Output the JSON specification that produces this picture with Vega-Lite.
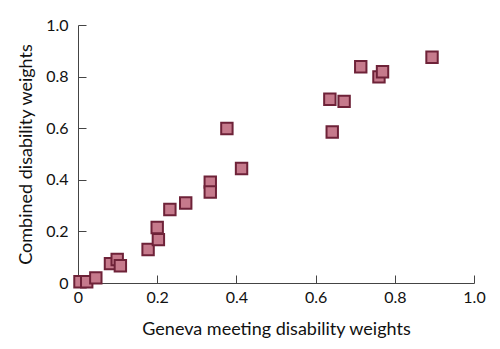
{
  "$schema": "https://vega.github.io/schema/vega-lite/v6.json",
  "autosize": {"type": "none"},
  "width": 396,
  "height": 258,
  "padding": {"left": 78, "top": 25, "right": 26, "bottom": 66},
  "background": "white",
  "data": {"values": [
    {"geneva": 0.005, "combined": 0.005},
    {"geneva": 0.022, "combined": 0.005},
    {"geneva": 0.045, "combined": 0.02},
    {"geneva": 0.082, "combined": 0.075},
    {"geneva": 0.099, "combined": 0.091},
    {"geneva": 0.107, "combined": 0.067},
    {"geneva": 0.177, "combined": 0.13},
    {"geneva": 0.2, "combined": 0.215},
    {"geneva": 0.203, "combined": 0.168},
    {"geneva": 0.232, "combined": 0.285},
    {"geneva": 0.272, "combined": 0.31},
    {"geneva": 0.334, "combined": 0.391},
    {"geneva": 0.334, "combined": 0.353},
    {"geneva": 0.376, "combined": 0.599},
    {"geneva": 0.413, "combined": 0.444},
    {"geneva": 0.636, "combined": 0.712},
    {"geneva": 0.642, "combined": 0.585},
    {"geneva": 0.672, "combined": 0.704},
    {"geneva": 0.714, "combined": 0.838},
    {"geneva": 0.76, "combined": 0.799},
    {"geneva": 0.769, "combined": 0.819},
    {"geneva": 0.894, "combined": 0.875}
  ]},
  "mark": {"type": "square", "size": 130, "filled": true, "fill": "#c67a8c", "stroke": "#6e2238", "strokeWidth": 2, "opacity": 1},
  "encoding": {
    "x": {
      "field": "geneva", "type": "quantitative",
      "scale": {"domain": [0, 1], "nice": false, "zero": true},
      "axis": {
        "title": "Geneva meeting disability weights",
        "values": [0, 0.2, 0.4, 0.6, 0.8, 1.0],
        "labelExpr": "datum.value == 0 ? '0' : format(datum.value, '.1f')",
        "labelFlush": false,
        "grid": false, "tickSize": -8, "labelPadding": 14, "titlePadding": 15
      }
    },
    "y": {
      "field": "combined", "type": "quantitative",
      "scale": {"domain": [0, 1], "nice": false, "zero": true},
      "axis": {
        "title": "Combined disability weights",
        "values": [0, 0.2, 0.4, 0.6, 0.8, 1.0],
        "labelExpr": "datum.value == 0 ? '0' : format(datum.value, '.1f')",
        "labelFlush": false,
        "grid": false, "tickSize": -8, "labelPadding": 18, "titlePadding": 10
      }
    }
  },
  "config": {
    "view": {"stroke": null},
    "axis": {
      "domainColor": "#444",
      "tickColor": "#444",
      "labelFont": "Lato",
      "titleFont": "Lato",
      "labelFontSize": 16,
      "titleFontSize": 18,
      "labelColor": "#111",
      "titleColor": "#111",
      "titleFontWeight": "normal",
      "labelFontWeight": "normal"
    }
  }
}
